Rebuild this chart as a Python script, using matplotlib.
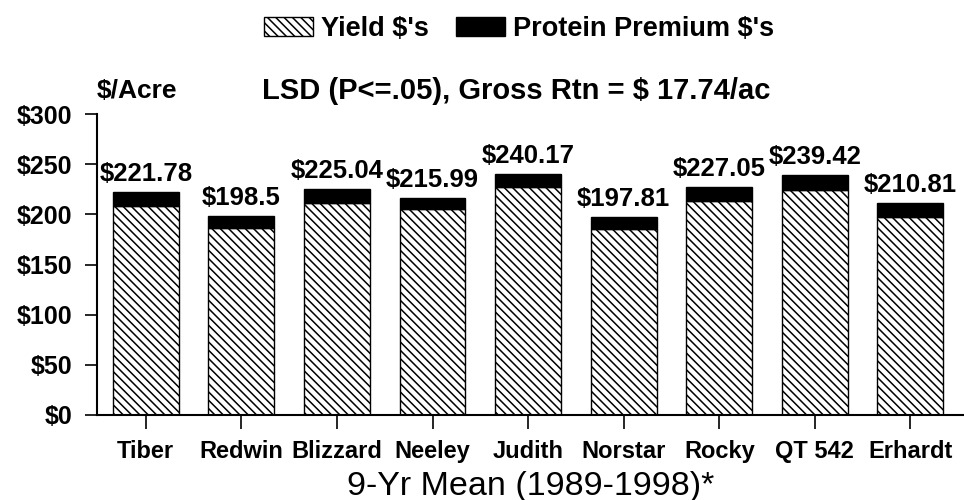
import matplotlib
matplotlib.use("Agg")
import matplotlib.pyplot as plt

varieties = ["Tiber", "Redwin", "Blizzard", "Neeley", "Judith",
             "Norstar", "Rocky", "QT 542", "Erhardt"]
yield_dollars = [208.8, 186.0, 211.0, 205.0, 227.2, 185.8, 213.0, 224.4, 197.8]
protein_dollars = [13.0, 12.5, 14.0, 11.0, 13.0, 12.0, 14.0, 15.0, 13.0]
total_labels = ["$221.78", "$198.5", "$225.04", "$215.99", "$240.17",
                "$197.81", "$227.05", "$239.42", "$210.81"]
y_ticks = [0, 50, 100, 150, 200, 250, 300]
y_ticklabels = ["$0", "$50", "$100", "$150", "$200", "$250", "$300"]

plt.rcParams["font.family"] = ["Liberation Sans", "DejaVu Sans"]
plt.rcParams["hatch.linewidth"] = 1.1

fig = plt.figure(figsize=(9.64, 5), dpi=100)
ax = fig.add_axes([97 / 964, 85 / 500, 1 - 97 / 964, 301 / 500])

x = list(range(len(varieties)))
width = 0.69
b1 = ax.bar(x, yield_dollars, width, color="white", edgecolor="black",
            hatch="\\\\\\\\", linewidth=1.0, label="Yield $'s")
b2 = ax.bar(x, protein_dollars, width, bottom=yield_dollars, color="black",
            edgecolor="black", linewidth=1.0, label="Protein Premium $'s")

# value labels on top of each stacked bar
for xi, y1, y2, lab in zip(x, yield_dollars, protein_dollars, total_labels):
    ax.text(xi, y1 + y2 + 6, lab, ha="center", va="bottom",
            fontsize=18.5, fontweight="bold")

ax.set_xlim(-0.51, 8.56)
ax.set_ylim(0, 300)
ax.set_yticks(y_ticks)
ax.set_yticklabels(y_ticklabels, fontsize=18, fontweight="bold")
ax.set_xticks(x)
ax.set_xticklabels(varieties, fontsize=17, fontweight="bold")
ax.tick_params(axis="y", direction="out", length=9, width=1.2, pad=9)
ax.tick_params(axis="x", direction="out", length=10, width=1.2, pad=8)

for side in ["top", "right"]:
    ax.spines[side].set_visible(False)
ax.spines["left"].set_linewidth(1.5)
ax.spines["bottom"].set_linewidth(1.5)

fig.text(97 / 964, 1 - 91 / 500, "$/Acre", fontsize=19, fontweight="bold",
         va="center", ha="left")
fig.text(516 / 964, 1 - 91 / 500, "LSD (P<=.05), Gross Rtn = $ 17.74/ac",
         fontsize=21, fontweight="bold", va="center", ha="center")
fig.text(531 / 964, 1 - 486 / 500, "9-Yr Mean (1989-1998)*",
         fontsize=24.5, va="center", ha="center")

fig.legend(handles=[b1, b2], loc="center", bbox_to_anchor=(519 / 964, 1 - 29 / 500),
           ncol=2, frameon=False, prop={"size": 19.5, "weight": "bold"},
           handlelength=1.8, handleheight=0.75, handletextpad=0.3,
           columnspacing=1.0, borderpad=0)

fig.savefig("out.png", dpi=100)
